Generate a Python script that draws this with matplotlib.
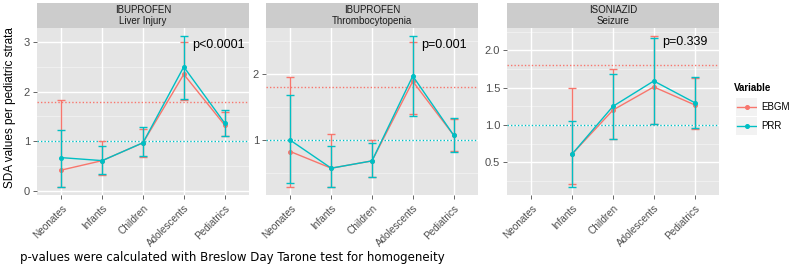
import matplotlib
matplotlib.use("Agg")
import matplotlib.pyplot as plt
import numpy as np

categories = ["Neonates", "Infants", "Children", "Adolescents", "Pediatrics"]
drugs = ["IBUPROFEN", "IBUPROFEN", "ISONIAZID"]
events = ["Liver Injury", "Thrombocytopenia", "Seizure"]
pvalues = ["p<0.0001", "p=0.001", "p=0.339"]

nan = np.nan
# Panel 1: Ibuprofen / Liver Injury
ebgm_1 = [0.42, 0.61, 0.97, 2.35, 1.33]
ebgm_1_lo = [0.08, 0.33, 0.68, 1.83, 1.10]
ebgm_1_hi = [1.84, 1.01, 1.25, 3.00, 1.60]
prr_1 = [0.67, 0.61, 0.97, 2.50, 1.37]
prr_1_lo = [0.07, 0.35, 0.70, 1.86, 1.11]
prr_1_hi = [1.23, 0.90, 1.29, 3.13, 1.64]
# Panel 2: Ibuprofen / Thrombocytopenia
ebgm_2 = [0.83, 0.58, 0.69, 1.89, 1.08]
ebgm_2_lo = [0.30, 0.30, 0.45, 1.40, 0.84]
ebgm_2_hi = [1.95, 1.10, 1.00, 2.49, 1.32]
prr_2 = [1.00, 0.58, 0.69, 1.97, 1.08]
prr_2_lo = [0.35, 0.29, 0.45, 1.36, 0.83]
prr_2_hi = [1.68, 0.92, 0.96, 2.58, 1.33]
# Panel 3: Isoniazid / Seizure
ebgm_3 = [nan, 0.61, 1.20, 1.51, 1.27]
ebgm_3_lo = [nan, 0.20, 0.81, 1.01, 0.95]
ebgm_3_hi = [nan, 1.49, 1.75, 2.20, 1.63]
prr_3 = [nan, 0.61, 1.25, 1.59, 1.30]
prr_3_lo = [nan, 0.16, 0.81, 1.01, 0.96]
prr_3_hi = [nan, 1.05, 1.68, 2.17, 1.65]

ebgm_threshold = 1.8
prr_threshold = 1.0

panels = [
    (ebgm_1, ebgm_1_lo, ebgm_1_hi, prr_1, prr_1_lo, prr_1_hi),
    (ebgm_2, ebgm_2_lo, ebgm_2_hi, prr_2, prr_2_lo, prr_2_hi),
    (ebgm_3, ebgm_3_lo, ebgm_3_hi, prr_3, prr_3_lo, prr_3_hi),
]
yticks = [[0, 1, 2, 3], [1, 2], [0.5, 1.0, 1.5, 2.0]]
yticklabels = [["0", "1", "2", "3"], ["1", "2"], ["0.5", "1.0", "1.5", "2.0"]]
minor_step = [0.5, 0.5, 0.25]
ptext_pos = [(4.85, 2.95), (4.77, 2.44), (4.77, 2.11)]

RED = "#F8766D"
CYAN = "#00BFC4"
W, H = 791, 273
fig = plt.figure(figsize=(W / 100, H / 100), dpi=100)
plt.rcParams["font.family"] = ["Liberation Sans", "DejaVu Sans"]

lefts = [37, 266, 507]
pw = 212
ptop, pbot = 28, 195
strip_top = 3

x = np.arange(1, len(categories) + 1)
for i, (eb, eblo, ebhi, pr, prlo, prhi) in enumerate(panels):
    ax = fig.add_axes([lefts[i] / W, 1 - pbot / H, pw / W, (pbot - ptop) / H])
    ax.set_facecolor("#E5E5E5")
    for s in ax.spines.values():
        s.set_visible(False)
    allv = np.array(eblo + ebhi + prlo + prhi, dtype=float)
    lo, hi = np.nanmin(allv), np.nanmax(allv)
    r = hi - lo
    ax.set_ylim(lo - 0.05 * r, hi + 0.05 * r)
    ax.set_xlim(0.4, 5.6)
    # minor grid
    yt = yticks[i]
    m = minor_step[i]
    mins = np.arange(yt[0] - m, yt[-1] + 2 * m, 2 * m)
    for mv in mins:
        ax.axhline(mv, color="#F2F2F2", lw=0.6, zorder=0.5)
    for mv in yt:
        ax.axhline(mv, color="white", lw=1.0, zorder=0.6)
    for xv in x:
        ax.axvline(xv, color="white", lw=1.0, zorder=0.6)
    ax.axhline(ebgm_threshold, color=RED, lw=1.0, ls=(0, (1, 1.5)), zorder=1)
    ax.axhline(prr_threshold, color=CYAN, lw=1.0, ls=(0, (1, 1.5)), zorder=1)
    for vals, vlo, vhi, col, z in [(eb, eblo, ebhi, RED, 2), (pr, prlo, prhi, CYAN, 3)]:
        v = np.array(vals, dtype=float)
        l = np.array(vlo, dtype=float)
        h = np.array(vhi, dtype=float)
        ax.errorbar(x, v, yerr=[v - l, h - v], fmt="none", ecolor=col,
                    elinewidth=1.0, capsize=2.9, capthick=1.0, zorder=z)
        ax.plot(x, v, color=col, lw=1.0, marker="o", ms=2.6, zorder=z + 0.5)
    ax.set_xticks(x)
    ax.set_xticklabels(categories, rotation=45, ha="right", rotation_mode="anchor",
                       fontsize=7.2, color="#4D4D4D")
    ax.set_yticks(yt)
    ax.set_yticklabels(yticklabels[i], fontsize=8, color="#4D4D4D")
    ax.tick_params(axis="both", length=3, color="#4D4D4D", width=0.6, pad=2)
    ax.tick_params(axis="x", pad=3)
    ax.text(ptext_pos[i][0], ptext_pos[i][1], pvalues[i], fontsize=9,
            ha="center", va="center", color="black", zorder=5)
    # strip
    sax = fig.add_axes([lefts[i] / W, 1 - ptop / H, pw / W, (ptop - strip_top) / H])
    sax.set_facecolor("#CCCCCC")
    sax.set_xticks([]); sax.set_yticks([])
    for s in sax.spines.values():
        s.set_visible(False)
    sax.text(0.5, 0.5, drugs[i] + "\n" + events[i], ha="center", va="center",
             fontsize=7, color="#1A1A1A", linespacing=1.1, transform=sax.transAxes)

fig.text(10 / W, 1 - 108 / H, "SDA values per pediatric strata", rotation=90,
         ha="center", va="center", fontsize=8.5, color="black")
fig.text(20 / W, 1 - 258 / H,
         "p-values were calculated with Breslow Day Tarone test for homogeneity",
         ha="left", va="center", fontsize=8.5, family="DejaVu Sans", color="black")

# legend
fig.text(734 / W, 1 - 88 / H, "Variable", ha="left", va="center", fontsize=7,
         fontweight="bold", color="black")
for j, (lab, col) in enumerate([("EBGM", RED), ("PRR", CYAN)]):
    yc = 107 + j * 19
    kax = fig.add_axes([736 / W, 1 - (yc + 9) / H, 21 / W, 18 / H])
    kax.set_facecolor("#F2F2F2")
    kax.set_xlim(0, 1); kax.set_ylim(0, 1)
    kax.set_xticks([]); kax.set_yticks([])
    for s in kax.spines.values():
        s.set_visible(False)
    kax.plot([0.05, 0.95], [0.5, 0.5], color=col, lw=1.0)
    kax.plot([0.5], [0.5], color=col, marker="o", ms=2.6)
    fig.text(761 / W, 1 - yc / H, lab, ha="left", va="center", fontsize=7, color="black")

fig.savefig("out.png", dpi=100, facecolor="white")
